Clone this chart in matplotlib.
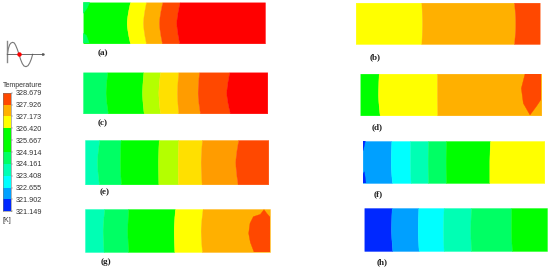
import numpy as np
import matplotlib
matplotlib.use("Agg")
import matplotlib.pyplot as plt
from matplotlib.colors import ListedColormap, BoundaryNorm

W, H = 550, 268
RED = "#ff0000"; ORED = "#ff4800"; ORANGE = "#ff9c00"; AMBER = "#ffb000"; GOLD = "#ffe000"
YEL = "#ffff00"; LIME = "#b4ff00"; GRN = "#00ff00"; SPR = "#00ff64"; AQUA = "#00ffb4"
CYAN = "#00ffff"; AZU = "#00a0ff"; BLUE = "#0028ff"

# colour legend
legend_values = [328.679, 327.926, 327.173, 326.420, 325.667, 324.914,
                 324.161, 323.408, 322.655, 321.902, 321.149]
legend_colors = [BLUE, AZU, CYAN, AQUA, SPR, GRN, GRN, YEL, AMBER, ORED]

# panels: name, colours, band boundaries (top, middle, bottom), left, right
a_colors = [GRN, YEL, AMBER, ORED, RED]
a_bounds = [(165, 155, 165), (213, 204, 213), (262, 252, 261), (314, 304, 313)]
c_colors = [SPR, GRN, LIME, GOLD, ORANGE, ORED, RED]
c_bounds = [(97, 92, 99), (205, 201, 206), (255, 250, 255), (310, 306, 310), (372, 368, 375), (463, 454, 465)]
e_colors = [AQUA, SPR, GRN, LIME, GOLD, ORANGE, ORED]
e_bounds = [(73, 66, 72), (137, 135, 138), (251, 249, 250), (310, 308, 309), (381, 377, 380), (490, 481, 488)]
g_colors = [AQUA, SPR, GRN, YEL, AMBER]
g_bounds = [(88, 83, 86), (160, 157, 160), (300, 296, 298), (383, 377, 381)]
b_colors = [YEL, AMBER, ORED]
b_bounds = [(214, 216, 214), (492, 496, 492)]
d_colors = [GRN, YEL, AMBER]
d_bounds = [(86, 84, 89), (261, 261, 262)]
f_colors = [AZU, CYAN, AQUA, SPR, GRN, YEL]
f_bounds = [(124, 122, 126), (180, 180, 182), (234, 233, 234), (288, 287, 288), (420, 418, 418)]
h_colors = [BLUE, AZU, CYAN, AQUA, SPR, GRN]
h_bounds = [(125, 123, 127), (205, 203, 206), (281, 279, 281), (363, 361, 363), (484, 483, 486)]

# detail regions inside panels
a_patches = [(SPR, [(25, 7), (44, 7), (36, 25), (25, 40)]),
             (SPR, [(25, 100), (34, 106), (43, 130), (25, 130)])]
g_patches = [(ORED, [(537, 351), (526, 322), (521, 295), (525, 265), (535, 245), (556, 238),
                     (567, 224), (576, 236), (585, 246), (585, 351)])]
d_patches = [(ORED, [(525, 222), (514, 265), (520, 310), (540, 345), (560, 318), (574, 297), (574, 222)])]
f_patches = [(BLUE, [(38, 18), (46, 18), (40, 45), (38, 48)]),
             (BLUE, [(38, 145), (48, 145), (43, 110), (38, 118)])]

# name, colours, bounds, patches, crop origin x, crop origin y, zoomed extents x0,x1,y0,y1, label x,y (px)
panels = [
    ("(a)", a_colors, a_bounds, a_patches, 75, 0, 25, 570, 7, 130, 102.7, 53),
    ("(c)", c_colors, c_bounds, [], 75, 0, 24, 577, 217, 340, 102.7, 122.7),
    ("(e)", e_colors, e_bounds, [], 75, 135, 30, 580, 15, 148, 104.3, 191.7),
    ("(g)", g_colors, g_bounds, g_patches, 75, 135, 30, 585, 222, 351, 105.7, 262),
    ("(b)", b_colors, b_bounds, [], 350, 0, 17, 569, 8, 132, 375.3, 56.7),
    ("(d)", d_colors, d_bounds, d_patches, 350, 0, 31, 574, 221, 346, 376.7, 127.3),
    ("(f)", f_colors, f_bounds, f_patches, 350, 135, 38, 583, 18, 144, 378, 194),
    ("(h)", h_colors, h_bounds, [], 350, 135, 43, 591, 219, 348, 381.7, 261.7),
]

# icon: wave outline
wave_x = [22, 25, 29, 33, 38, 43, 47, 52, 57, 62, 67, 72, 78, 84, 89, 94, 98]
wave_y = [163, 146, 134, 129, 127, 129, 136, 148, 163, 179, 191, 198, 200, 197, 189, 177, 163]

fig = plt.figure(figsize=(W / 100, H / 100), dpi=100, facecolor="white")


def add_px_axes(x0, x1, ytop, ybot):
    return fig.add_axes([x0 / W, 1 - ybot / H, (x1 - x0) / W, (ybot - ytop) / H])


for label, colors, bounds, patches, ox, oy, zx0, zx1, zy0, zy1, lx, ly in panels:
    ax = add_px_axes(ox + zx0 / 3, ox + zx1 / 3, oy + zy0 / 3, oy + zy1 / 3)
    ax.set_xlim(zx0, zx1)
    ax.set_ylim(zy1, zy0)
    ax.axis("off")
    t = np.linspace(0, 1, 60)
    ys = zy0 + t * (zy1 - zy0)
    weight = np.abs(2 * t - 1) ** 1.5
    edges = [np.full_like(t, zx0, dtype=float)]
    for top, mid, bot in bounds:
        ends = np.where(t < 0.5, top, bot)
        edges.append(mid + (ends - mid) * weight)
    edges.append(np.full_like(t, zx1, dtype=float))
    for i, c in enumerate(colors):
        ax.fill_betweenx(ys, edges[i], edges[i + 1], color=c, lw=0.25)
    for c, pts in patches:
        ax.fill([p[0] for p in pts], [p[1] for p in pts], color=c, lw=0.25, clip_on=True)
    fig.text(lx / W, 1 - ly / H, label, family="Liberation Serif", fontweight="bold",
             fontsize=6.6, color="#222222", ha="center", va="center")

# legend bar
cax = add_px_axes(3, 11, 92.7, 211.3)
levels = np.array(legend_values[::-1])
cax.pcolormesh([0, 1], levels, np.array(levels[:-1]).reshape(-1, 1),
               cmap=ListedColormap(legend_colors), norm=BoundaryNorm(levels, len(legend_colors)))
cax.set_xticks([])
cax.set_ylim(levels[0], levels[-1])
cax.yaxis.tick_right()
cax.set_yticks(legend_values, [f"{v:.3f}" for v in legend_values],
               family="Liberation Sans", fontsize=5.2, color="#333333")
cax.tick_params(axis="y", length=1.5, width=0.3, pad=1.6, color="#666666")
for s in cax.spines.values():
    s.set_linewidth(0.4)
    s.set_color("#777777")
fig.text(2.5 / W, 1 - 85 / H, "Temperature", family="Liberation Sans", fontsize=5.0,
         color="#333333", ha="left", va="center")
fig.text(2.5 / W, 1 - 220 / H, "[K]", family="Liberation Sans", fontsize=5.0,
         color="#333333", ha="left", va="center")

# wave icon
iax = add_px_axes(0, 50, 35, 72)
iax.set_xlim(0, 150)
iax.set_ylim(72 * 3, 35 * 3)
iax.axis("off")
iax.plot(wave_x, wave_y, color="#777777", lw=0.8)
iax.plot([20, 20], [122, 187], color="#888888", lw=1.0)
iax.plot([20, 128], [163, 163], color="#555555", lw=0.6)
iax.plot([130], [163], marker=">", ms=1.2, color="#555555")
iax.plot([57], [163], marker="o", ms=3.2, color="#ff0000", mew=0)

fig.savefig("out.png", dpi=100, facecolor="white")
